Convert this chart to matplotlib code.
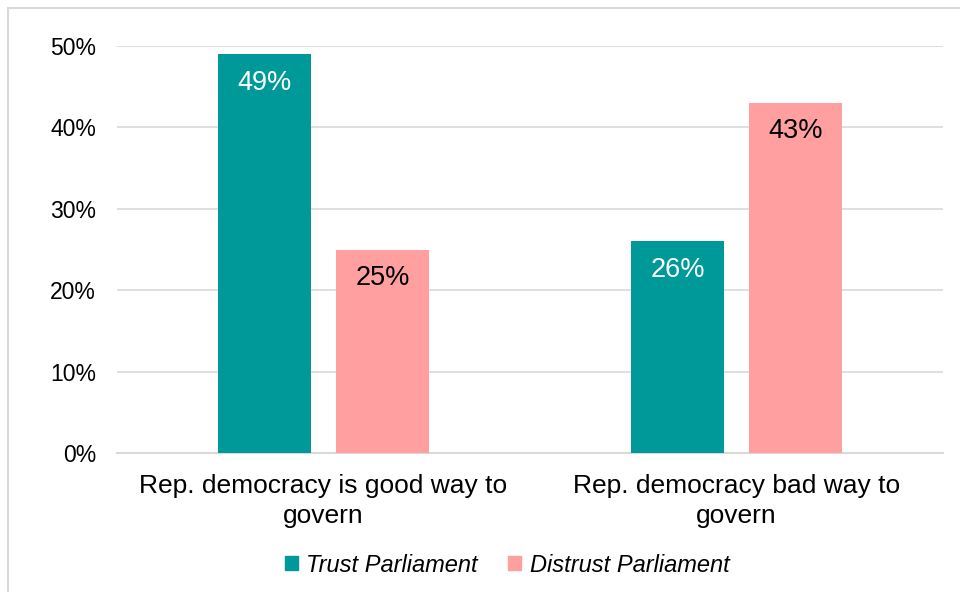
import matplotlib
matplotlib.use("Agg")
import matplotlib.pyplot as plt
from matplotlib.patches import Rectangle
import numpy as np

plt.rcParams['font.family'] = ['Liberation Sans', 'DejaVu Sans']

categories = ["Rep. democracy is good way to\ngovern", "Rep. democracy bad way to\ngovern"]
series_names = ["Trust Parliament", "Distrust Parliament"]
trust = [0.49, 0.26]
distrust = [0.25, 0.43]
yticks = [0, 0.1, 0.2, 0.3, 0.4, 0.5]
ytick_labels = ["0%", "10%", "20%", "30%", "40%", "50%"]

teal = "#009999"
pink = "#FF9F9F"
grid = "#D9D9D9"

fig = plt.figure(figsize=(9.6, 5.92), dpi=100)
ax = fig.add_axes([117/960, 1-453/592, (943-117)/960, (453-46)/592])

x = np.arange(len(categories))
w = 0.225
off = 0.143
b1 = ax.bar(x - off, trust, w, color=teal, zorder=3)
b2 = ax.bar(x + off, distrust, w, color=pink, zorder=3)

for bars, vals, col in ((b1, trust, "white"), (b2, distrust, "black")):
    for r, v in zip(bars, vals):
        ax.annotate(f"{v*100:.0f}%", (r.get_x() + r.get_width()/2, v),
                    xytext=(0, -20.5), textcoords="offset points",
                    ha="center", va="center", fontsize=19.5, color=col, zorder=4)

ax.set_xlim(-0.5, 1.5)
ax.set_ylim(0, 0.5)
ax.set_yticks(yticks)
ax.set_yticklabels(ytick_labels, fontsize=16.5)
ax.set_xticks(x)
ax.set_xticklabels(categories, fontsize=19, linespacing=1.3)
ax.tick_params(axis="y", length=0, pad=15)
ax.tick_params(axis="x", length=0, pad=15)
ax.yaxis.grid(True, color=grid, linewidth=1.2, zorder=0)
for s in ("top", "right", "left"):
    ax.spines[s].set_visible(False)
ax.spines["bottom"].set_color(grid)
ax.spines["bottom"].set_linewidth(1.5)

handles = [Rectangle((0, 0), 1, 1, color=teal), Rectangle((0, 0), 1, 1, color=pink)]
fig.legend(handles, series_names, loc="center", bbox_to_anchor=(507/960, 1-565/592),
           ncol=2, frameon=False, prop={"size": 17, "style": "italic"},
           handlelength=0.55, handleheight=0.55, handletextpad=0.35, columnspacing=1.3)

fig.patches.append(Rectangle((8/960, -0.1), 1.2, (592-8)/592 + 0.1, transform=fig.transFigure,
                             fill=False, edgecolor="#D9D9D9", linewidth=1.5, zorder=0))

fig.savefig("out.png", dpi=100)
